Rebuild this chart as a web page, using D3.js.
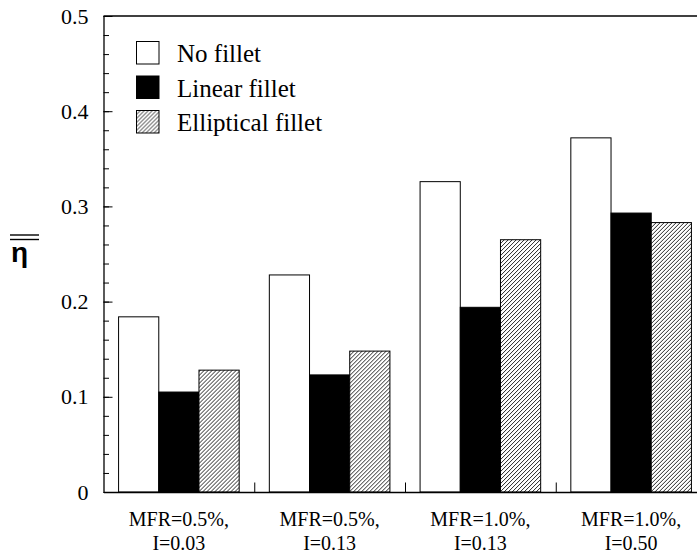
<!DOCTYPE html>
<html>
<head>
<meta charset="utf-8">
<script src="https://cdn.jsdelivr.net/npm/d3@7"></script>
<style>
  html, body { margin: 0; padding: 0; background: #fff; }
  svg { display: block; }
</style>
</head>
<body>
<svg id="chart" width="697" height="554"></svg>
<script>
// ---- data ----
const categoryLine1 = ["MFR=0.5%,", "MFR=0.5%,", "MFR=1.0%,", "MFR=1.0%,"];
const categoryLine2 = ["I=0.03", "I=0.13", "I=0.13", "I=0.50"];
const seriesNames = ["No fillet", "Linear fillet", "Elliptical fillet"];
const noFillet   = [0.184, 0.228, 0.326, 0.372];
const linearFillet = [0.105, 0.123, 0.194, 0.293];
const ellipticalFillet = [0.128, 0.148, 0.265, 0.283];
const yTickValues = [0, 0.1, 0.2, 0.3, 0.4, 0.5];
const yTickLabels = ["0", "0.1", "0.2", "0.3", "0.4", "0.5"];

const seriesValues = [noFillet, linearFillet, ellipticalFillet];
const categories = categoryLine1.map((d, i) => i);

// ---- layout ----
const svg = d3.select("#chart");
const plotL = 103.5, plotR = 706.5, plotT = 16, plotB = 492;
const serif = "'Liberation Serif', 'Times New Roman', serif";

const defs = svg.append("defs");
const pat = defs.append("pattern")
  .attr("id", "hatch")
  .attr("patternUnits", "userSpaceOnUse")
  .attr("width", 4).attr("height", 4);
pat.append("rect").attr("width", 4).attr("height", 4).attr("fill", "#fff");
pat.append("path")
  .attr("d", "M-1,1 L1,-1 M0,4 L4,0 M3,5 L5,3")
  .attr("stroke", "#000").attr("stroke-width", 0.85);

const fills = ["#fff", "#000", "url(#hatch)"];

const x0 = d3.scaleBand().domain(categories).range([plotL, plotR])
  .paddingInner(0.2).paddingOuter(0.1);
const x1 = d3.scaleBand().domain(d3.range(seriesNames.length)).range([0, x0.bandwidth()]);
const y = d3.scaleLinear().domain([0, 0.5]).range([plotB, plotT]);

// bars
const groups = svg.append("g").selectAll("g").data(categories).join("g")
  .attr("transform", d => `translate(${x0(d)},0)`);
groups.selectAll("rect")
  .data(c => seriesValues.map((vals, s) => ({ s, v: vals[c] })))
  .join("rect")
  .attr("x", d => x1(d.s))
  .attr("y", d => y(d.v))
  .attr("width", x1.bandwidth())
  .attr("height", d => y(0) - y(d.v))
  .attr("fill", d => fills[d.s])
  .attr("stroke", "#000")
  .attr("stroke-width", 1);

// y axis with inward ticks (major + minor)
const yAxisMinor = d3.axisRight(y).tickValues(d3.range(0, 0.5001, 0.02)).tickSize(5.5).tickFormat("");
const gMinor = svg.append("g").attr("transform", `translate(${plotL},0)`).call(yAxisMinor);
gMinor.select(".domain").remove();
gMinor.selectAll("line").attr("stroke", "#000");

const yAxis = d3.axisLeft(y).tickValues(yTickValues).tickSizeInner(-9).tickSizeOuter(0).tickPadding(15)
  .tickFormat((d, i) => yTickLabels[i]);
const gY = svg.append("g").attr("transform", `translate(${plotL},0)`).call(yAxis);
gY.select(".domain").attr("stroke", "#000").attr("stroke-width", 1.3);
gY.selectAll("line").attr("stroke", "#000");
gY.selectAll("text").style("font-family", serif).style("font-size", "22px").attr("fill", "#000")
  .attr("x", -15);

// x axis: separators between groups, pointing up
const step = x0.step();
const sepValues = categories.slice(1).map(c => x0(c) - step * x0.paddingInner() / 2);
const xSep = d3.scaleLinear().domain([plotL, plotR]).range([plotL, plotR]);
const xAxis = d3.axisBottom(xSep).tickValues(sepValues).tickSizeInner(-9.5).tickSizeOuter(0).tickFormat("");
const gX = svg.append("g").attr("transform", `translate(0,${plotB})`).call(xAxis);
gX.select(".domain").attr("stroke", "#000").attr("stroke-width", 1.3);
gX.selectAll("line").attr("stroke", "#000");

// top / right border
svg.append("line").attr("x1", plotL).attr("x2", plotR).attr("y1", plotT).attr("y2", plotT)
  .attr("stroke", "#000").attr("stroke-width", 1.3);
svg.append("line").attr("x1", plotR).attr("x2", plotR).attr("y1", plotT).attr("y2", plotB)
  .attr("stroke", "#000").attr("stroke-width", 1.3);

// category labels
const lab = svg.append("g").selectAll("text").data(categories).join("text")
  .style("font-family", serif).style("font-size", "20px").attr("text-anchor", "middle").attr("fill", "#000");
lab.append("tspan").attr("x", d => x0(d) + x0.bandwidth() / 2).attr("y", 526).text(d => categoryLine1[d]);
lab.append("tspan").attr("x", d => x0(d) + x0.bandwidth() / 2).attr("y", 550).text(d => categoryLine2[d]);

// y label: eta with double overline
svg.append("text").attr("x", 11).attr("y", 262)
  .style("font-family", "'Liberation Sans', Arial, sans-serif").style("font-weight", "bold")
  .style("font-size", "28px").attr("fill", "#000").text("η");
[235, 239.5].forEach(yy => svg.append("line").attr("x1", 10).attr("x2", 39)
  .attr("y1", yy).attr("y2", yy).attr("stroke", "#000").attr("stroke-width", 1.4));

// legend
const legend = svg.append("g").selectAll("g").data(seriesNames).join("g")
  .attr("transform", (d, i) => `translate(136.5,${41.5 + i * 34.5})`);
legend.append("rect").attr("width", 22.5).attr("height", 22.5)
  .attr("fill", (d, i) => fills[i]).attr("stroke", "#000").attr("stroke-width", 1);
legend.append("text").attr("x", 40.5).attr("y", 20.5)
  .style("font-family", serif).style("font-size", "25px").attr("fill", "#000").text(d => d);
</script>
</body>
</html>
